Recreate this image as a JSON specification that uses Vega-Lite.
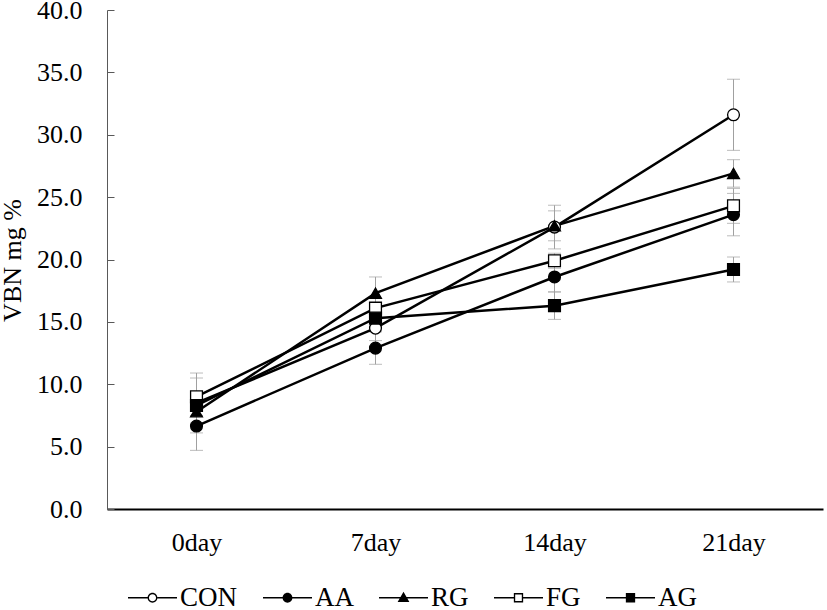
{
  "$schema": "https://vega.github.io/schema/vega-lite/v6.json",
  "autosize": {"type": "none"},
  "width": 716,
  "height": 499,
  "padding": {"left": 107, "top": 10, "right": 4, "bottom": 101},
  "background": "white",
  "config": {
    "view": {"stroke": null},
    "font": "Liberation Serif"
  },
  "data": {
    "values": [
      {"day": "0day", "group": "CON", "value": 8.5, "err": 2.4},
      {"day": "7day", "group": "CON", "value": 14.5, "err": 1.0},
      {"day": "14day", "group": "CON", "value": 22.6, "err": 1.75},
      {"day": "21day", "group": "CON", "value": 31.6, "err": 2.85},
      {"day": "0day", "group": "AA", "value": 6.65, "err": 1.95},
      {"day": "7day", "group": "AA", "value": 12.9, "err": 1.3},
      {"day": "14day", "group": "AA", "value": 18.6, "err": 1.2},
      {"day": "21day", "group": "AA", "value": 23.6, "err": 1.7},
      {"day": "0day", "group": "RG", "value": 7.8, "err": 0.9},
      {"day": "7day", "group": "RG", "value": 17.3, "err": 1.3},
      {"day": "14day", "group": "RG", "value": 22.7, "err": 1.2},
      {"day": "21day", "group": "RG", "value": 26.9, "err": 1.1},
      {"day": "0day", "group": "FG", "value": 9.0, "err": 1.5},
      {"day": "7day", "group": "FG", "value": 16.1, "err": 0.8},
      {"day": "14day", "group": "FG", "value": 19.9, "err": 0.6},
      {"day": "21day", "group": "FG", "value": 24.3, "err": 1.4},
      {"day": "0day", "group": "AG", "value": 8.3, "err": 0.8},
      {"day": "7day", "group": "AG", "value": 15.3, "err": 0.9},
      {"day": "14day", "group": "AG", "value": 16.3, "err": 1.1},
      {"day": "21day", "group": "AG", "value": 19.2, "err": 1.0}
    ]
  },
  "encoding": {
    "x": {
      "field": "day",
      "type": "nominal",
      "sort": ["0day", "7day", "14day", "21day"],
      "scale": {"type": "point", "padding": 0.5},
      "axis": {
        "title": null,
        "labelAngle": 0,
        "ticks": false,
        "domainColor": "#000000",
        "domainWidth": 2,
        "labelFontSize": 26,
        "labelColor": "#000000",
        "labelPadding": 20,
        "grid": false
      }
    }
  },
  "layer": [
    {
      "mark": {"type": "errorbar", "ticks": true, "color": "#a0a0a0", "thickness": 1, "size": 13},
      "encoding": {
        "y": {"field": "value", "type": "quantitative", "title": "VBN mg %", "scale": {"domain": [0, 40], "nice": false}},
        "yError": {"field": "err"},
        "detail": {"field": "group"}
      }
    },
    {
      "mark": {"type": "line", "color": "#000000", "strokeWidth": 2.5},
      "encoding": {
        "y": {
          "field": "value",
          "type": "quantitative",
          "title": "VBN mg %",
          "scale": {"domain": [0, 40], "nice": false},
          "axis": {
            "title": "VBN mg %",
            "titleFontSize": 26,
            "titleFontWeight": "normal",
            "titleColor": "#000000",
            "titleX": -95,
            "titleY": 250,
            "titleAngle": -90,
            "titleBaseline": "middle",
            "titleAlign": "center",
            "values": [0, 5, 10, 15, 20, 25, 30, 35, 40],
            "format": ".1f",
            "grid": false,
            "labelFontSize": 26,
            "labelColor": "#000000",
            "domainColor": "#595959",
            "tickColor": "#595959",
            "tickSize": -7,
            "labelPadding": 32
          }
        },
        "detail": {"field": "group"}
      }
    },
    {
      "mark": {"type": "point", "filled": false, "stroke": "#000000", "strokeWidth": 1.3, "opacity": 1, "size": 140},
      "encoding": {
        "y": {"field": "value", "type": "quantitative", "title": "VBN mg %"},
        "shape": {
          "field": "group",
          "type": "nominal",
          "scale": {"domain": ["CON", "AA", "RG", "FG", "AG"], "range": ["circle", "circle", "triangle-up", "square", "square"]},
          "legend": null
        },
        "fill": {
          "field": "group",
          "type": "nominal",
          "scale": {"domain": ["CON", "AA", "RG", "FG", "AG"], "range": ["#ffffff", "#000000", "#000000", "#ffffff", "#000000"]},
          "legend": null
        }
      }
    },
    {
      "mark": {"type": "point", "filled": true, "color": "#000000", "opacity": 1, "size": 0, "strokeWidth": 0},
      "encoding": {
        "y": {"field": "value", "type": "quantitative", "title": "VBN mg %"},
        "shape": {
          "field": "group",
          "type": "nominal",
          "title": null,
          "scale": {
            "domain": ["CON", "AA", "RG", "FG", "AG"],
            "range": [
              "M-1,-0.033H-0.2V0.033H-1Z M0.2,-0.033H1V0.033H0.2Z M0.2,0A0.2,0.2,0,1,1,-0.2,0A0.2,0.2,0,1,1,0.2,0Z M0.145,0A0.145,0.145,0,1,0,-0.145,0A0.145,0.145,0,1,0,0.145,0Z",
              "M-1,-0.033H1V0.033H-1Z M0.2,0A0.2,0.2,0,1,1,-0.2,0A0.2,0.2,0,1,1,0.2,0Z",
              "M-1,-0.033H1V0.033H-1Z M0,-0.25L0.24,0.17L-0.24,0.17Z",
              "M-1,-0.033H-0.19V0.033H-1Z M0.19,-0.033H1V0.033H0.19Z M-0.19,-0.19H0.19V0.19H-0.19Z M-0.135,-0.135V0.135H0.135V-0.135Z",
              "M-1,-0.033H1V0.033H-1Z M-0.19,-0.19H0.19V0.19H-0.19Z"
            ]
          },
          "legend": {
            "title": null,
            "orient": "none",
            "direction": "horizontal",
            "legendX": 21,
            "legendY": 563,
            "symbolSize": 2400,
            "symbolFillColor": "#000000",
            "symbolStrokeWidth": 0,
            "labelFontSize": 27,
            "labelColor": "#000000",
            "labelOffset": 3,
            "columnPadding": 25
          }
        }
      }
    }
  ],
  "resolve": {"scale": {"shape": "independent"}}
}
